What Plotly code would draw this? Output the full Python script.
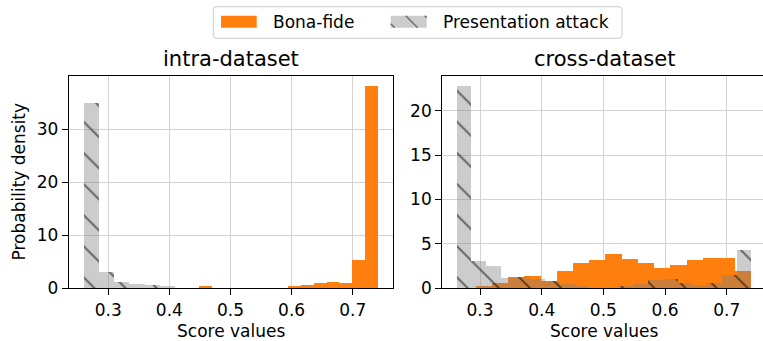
import numpy as np
import plotly.graph_objects as go

# ---------------- data ----------------
# intra-dataset
intra_bona_start = 0.4483
intra_bona_width = 0.0209
intra_bona_density = [0.45, 0, 0, 0, 0, 0, 0, 0.38, 0.56, 0.94, 1.19, 0.94, 5.27, 38.1]

intra_pa_start = 0.2602
intra_pa_width = 0.0248
intra_pa_density = [35.0, 3.0, 1.13, 0.75, 0.56, 0.31]

# cross-dataset
cross_bona_start = 0.2935
cross_bona_width = 0.02629
cross_bona_density = [0.19, 0.53, 1.24, 1.35, 0.75, 1.95, 2.81, 3.15, 3.83,
                      3.33, 2.88, 2.25, 2.59, 3.15, 3.38, 3.38, 1.87]

cross_pa_start = 0.2627
cross_pa_width = 0.02389
cross_pa_density = [22.8, 3.07, 2.44, 1.09, 1.2, 1.0, 0.75, 0.5, 0.2, 0.05,
                    0.05, 0.2, 0.45, 0.9, 1.0, 0.56, 0.37, 0.56, 1.5, 4.3]

x_ticks = [0.3, 0.4, 0.5, 0.6, 0.7]
x_ticktext = ["0.3", "0.4", "0.5", "0.6", "0.7"]
intra_y_ticks = [0, 10, 20, 30]
cross_y_ticks = [0, 5, 10, 15, 20]

titles = ["intra-dataset", "cross-dataset"]
series_names = ["Bona-fide", "Presentation attack"]

# ---------------- style ----------------
FONT = "DejaVu Sans"
ORANGE = "#ff7f0e"
GRAY = "rgba(128,128,128,0.4)"
HATCH = "black"


def centers(start, width, vals):
    return start + width * (np.arange(len(vals)) + 0.5)


def bona_bar(start, width, vals, xa, ya):
    return go.Bar(x=centers(start, width, vals), y=vals, width=width,
                  marker=dict(color=ORANGE, line=dict(width=0)),
                  xaxis=xa, yaxis=ya, showlegend=False, name=series_names[0])


def pa_bar(start, width, vals, xa, ya):
    return go.Bar(x=centers(start, width, vals), y=vals, width=width,
                  marker=dict(color=GRAY, line=dict(width=0),
                              pattern=dict(shape="\\", fillmode="overlay",
                                           fgcolor=HATCH, fgopacity=0.5,
                                           size=22, solidity=0.09)),
                  xaxis=xa, yaxis=ya, showlegend=False, name=series_names[1])


fig = go.Figure()
fig.add_trace(bona_bar(intra_bona_start, intra_bona_width, intra_bona_density, "x", "y"))
fig.add_trace(pa_bar(intra_pa_start, intra_pa_width, intra_pa_density, "x", "y"))
fig.add_trace(bona_bar(cross_bona_start, cross_bona_width, cross_bona_density, "x2", "y2"))
fig.add_trace(pa_bar(cross_pa_start, cross_pa_width, cross_pa_density, "x2", "y2"))

W, H = 763, 341
ML, MR, MT, MB = 69, 0, 76, 53
PW, PH = W - ML - MR, H - MT - MB


def px(p):
    return (p - ML) / PW


def py(p):
    return (H - MB - p) / PH


axis_common = dict(showline=True, linecolor="black", linewidth=1.3,
                   ticks="outside", ticklen=6, tickwidth=1.3, tickcolor="black",
                   showgrid=True, gridcolor="#d3d3d3", gridwidth=1.3,
                   zeroline=False, tickfont=dict(family=FONT, size=17, color="black"))

fig.update_layout(
    width=W, height=H,
    margin=dict(l=ML, r=MR, t=MT, b=MB, pad=0),
    paper_bgcolor="white", plot_bgcolor="white",
    barmode="overlay", bargap=0, showlegend=False,
    font=dict(family=FONT, size=17, color="black"),
    xaxis=dict(domain=[0, px(393)], range=[0.2357, 0.766], tickvals=x_ticks,
               ticktext=x_ticktext, mirror=True, anchor="y", **axis_common),
    yaxis=dict(domain=[0, 1], range=[0, 40.0], tickvals=intra_y_ticks,
               mirror=True, anchor="x", **axis_common),
    xaxis2=dict(domain=[px(442.3), 1], range=[0.2389, 0.7587], tickvals=x_ticks,
                ticktext=x_ticktext, mirror=True, anchor="y2", **axis_common),
    yaxis2=dict(domain=[0, 1], range=[0, 23.94], tickvals=cross_y_ticks,
                mirror=False, anchor="x2", **axis_common),
)

ann = []
# titles
ann.append(dict(text=titles[0], x=px(231), y=py(59), xref="paper", yref="paper",
                showarrow=False, xanchor="center", yanchor="middle",
                font=dict(family=FONT, size=21, color="black")))
ann.append(dict(text=titles[1], x=px(604.4), y=py(59), xref="paper", yref="paper",
                showarrow=False, xanchor="center", yanchor="middle",
                font=dict(family=FONT, size=21, color="black")))
# axis titles
for cx in (231, 604.4):
    ann.append(dict(text="Score values", x=px(cx), y=py(331), xref="paper", yref="paper",
                    showarrow=False, xanchor="center", yanchor="middle",
                    font=dict(family=FONT, size=17, color="black")))
ann.append(dict(text="Probability density", x=px(18.5), y=py(182), xref="paper",
                yref="paper", showarrow=False, textangle=-90, xanchor="center",
                yanchor="middle", font=dict(family=FONT, size=17, color="black")))
# legend texts
ann.append(dict(text=series_names[0], x=px(270.5), y=py(21.7), xref="paper", yref="paper",
                showarrow=False, xanchor="left", yanchor="middle",
                font=dict(family=FONT, size=17, color="black")))
ann.append(dict(text=series_names[1], x=px(440.5), y=py(21.7), xref="paper", yref="paper",
                showarrow=False, xanchor="left", yanchor="middle",
                font=dict(family=FONT, size=17, color="black")))
fig.update_layout(annotations=ann)

# legend frame with rounded corners
x0, x1, y0, y1, r = 213.3, 622.0, 6.7, 38.3, 3.0
path = (f"M {px(x0 + r)} {py(y0)} L {px(x1 - r)} {py(y0)} "
        f"Q {px(x1)} {py(y0)} {px(x1)} {py(y0 + r)} L {px(x1)} {py(y1 - r)} "
        f"Q {px(x1)} {py(y1)} {px(x1 - r)} {py(y1)} L {px(x0 + r)} {py(y1)} "
        f"Q {px(x0)} {py(y1)} {px(x0)} {py(y1 - r)} L {px(x0)} {py(y0 + r)} "
        f"Q {px(x0)} {py(y0)} {px(x0 + r)} {py(y0)} Z")
shapes = [dict(type="path", path=path, xref="paper", yref="paper",
               line=dict(color="#cccccc", width=1), fillcolor="rgba(255,255,255,0.8)")]
# legend patches
shapes.append(dict(type="rect", xref="paper", yref="paper", x0=px(221), x1=px(256.7),
                   y0=py(27.7), y1=py(15.7), line=dict(width=0), fillcolor=ORANGE))
shapes.append(dict(type="rect", xref="paper", yref="paper", x0=px(390.7), x1=px(426.7),
                   y0=py(27.7), y1=py(15.7), line=dict(width=0), fillcolor=GRAY))
for (ax, ay, bx, by) in [(390.7, 23.7, 394.7, 27.7), (405.7, 15.7, 417.7, 27.7),
                         (424.7, 15.7, 426.7, 17.7)]:
    shapes.append(dict(type="line", xref="paper", yref="paper", x0=px(ax), y0=py(ay),
                       x1=px(bx), y1=py(by), line=dict(color="rgba(0,0,0,0.5)", width=1.3)))
fig.update_layout(shapes=shapes)

fig.write_html(
    "out.html",
    config={"displayModeBar": False},
    post_script="document.body.style.margin='0';document.body.style.overflow='hidden';",
)
